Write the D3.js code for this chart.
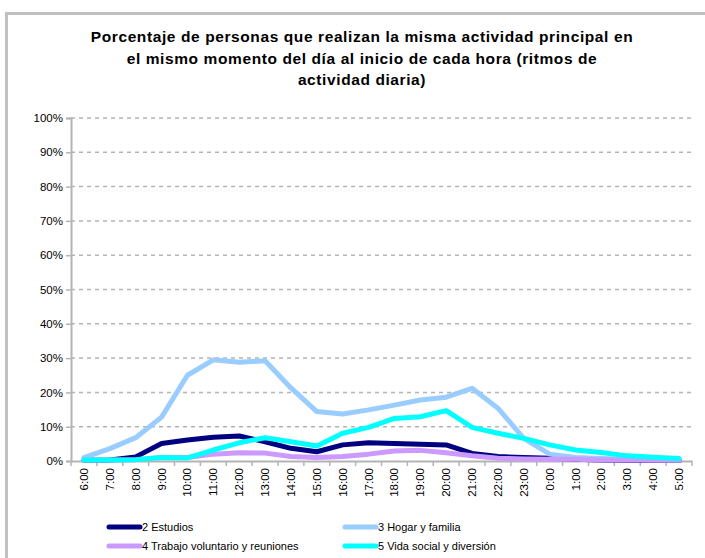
<!DOCTYPE html>
<html>
<head>
<meta charset="utf-8">
<script src="https://cdn.jsdelivr.net/npm/d3@7"></script>
<style>
  body { margin: 0; background: #fff; }
  svg { display: block; font-family: "Liberation Sans", Arial, sans-serif; }
</style>
</head>
<body>
<svg></svg>
<script>
const width = 705;
const height = 558;

const hours = ['6:00', '7:00', '8:00', '9:00', '10:00', '11:00', '12:00', '13:00', '14:00', '15:00', '16:00', '17:00',
    '18:00', '19:00', '20:00', '21:00', '22:00', '23:00', '0:00', '1:00', '2:00', '3:00', '4:00', '5:00'];

const estudios = [0.2, 0.3, 1.2, 5.1, 6.1, 6.9, 7.3, 5.6, 3.7, 2.7, 4.7, 5.3, 5.1, 4.9, 4.7, 2.2, 1.3, 1.0, 0.8, 0.5, 0.3, 0.2, 0.2, 0.2];
const hogar = [1.0, 3.6, 6.8, 12.8, 25.0, 29.5, 28.8, 29.2, 21.3, 14.4, 13.7, 14.9, 16.3, 17.8, 18.6, 21.2, 15.4, 6.6, 2.0, 1.0, 0.7, 0.5, 0.4, 0.3];
const voluntario = [0.2, 0.3, 0.4, 1.0, 1.0, 2.0, 2.4, 2.3, 1.3, 1.0, 1.3, 2.0, 2.9, 3.1, 2.4, 1.5, 0.8, 0.6, 0.5, 0.5, 0.3, 0.3, 0.3, 0.3];
const social = [0.3, 0.3, 0.4, 1.0, 0.9, 3.2, 5.3, 6.8, 5.6, 4.4, 8.1, 9.8, 12.4, 12.9, 14.7, 9.8, 8.1, 6.6, 4.7, 3.2, 2.5, 1.5, 1.1, 0.7];

const seriesNames = ['2 Estudios', '3 Hogar y familia', '4 Trabajo voluntario y reuniones', '5 Vida social y diversión'];
const seriesColors = ['#000080', '#99ccff', '#cc99ff', '#00ffff'];
const yTicks = [0, 10, 20, 30, 40, 50, 60, 70, 80, 90, 100];

const titleLines = ['Porcentaje de personas que realizan la misma actividad principal en',
    'el mismo momento del día al inicio de cada hora (ritmos de',
    'actividad diaria)'];

const series = [estudios, hogar, voluntario, social];

const svg = d3.select('svg')
    .attr('width', width)
    .attr('height', height);

// chart border (runs off the right and bottom edges)
svg.append('rect')
    .attr('x', 6.5)
    .attr('y', 13.5)
    .attr('width', 720)
    .attr('height', 600)
    .attr('fill', 'none')
    .attr('stroke', '#c0c0c0')
    .attr('stroke-width', 3);

svg.append('g').selectAll('text')
    .data(titleLines)
    .enter().append('text')
    .attr('x', 362)
    .attr('y', (d, i) => 42 + i * 21.5)
    .attr('text-anchor', 'middle')
    .attr('font-weight', 'bold')
    .attr('font-size', '15.5px')
    .attr('letter-spacing', '0.6px')
    .attr('fill', '#000')
    .text(d => d);

const x = d3.scaleBand().domain(hours).range([71, 692]);
const y = d3.scaleLinear().domain([0, 100]).range([461, 118]);

// grid lines
svg.append('g').selectAll('line')
    .data(yTicks.slice(1))
    .enter().append('line')
    .attr('x1', 71)
    .attr('x2', 692)
    .attr('y1', d => y(d))
    .attr('y2', d => y(d))
    .attr('stroke', '#b4b4b4')
    .attr('stroke-width', 1.5)
    .attr('stroke-dasharray', '4,4');

// y axis
const yAxis = svg.append('g')
    .attr('transform', 'translate(71,0)')
    .call(d3.axisLeft(y).tickValues(yTicks).tickFormat(d => d + '%').tickSize(5).tickPadding(3));
yAxis.select('.domain').attr('stroke', '#b4b4b4').attr('stroke-width', 2);
yAxis.selectAll('.tick line').attr('stroke', '#b4b4b4').attr('stroke-width', 1.5);
yAxis.selectAll('text').attr('font-size', '11.5px').attr('fill', '#000')
    .attr('font-family', '"Liberation Sans", Arial, sans-serif');

// x axis
const xAxis = svg.append('g')
    .attr('transform', 'translate(0,461)')
    .call(d3.axisBottom(x).tickSize(0).tickPadding(6));
xAxis.select('.domain').attr('stroke', '#b4b4b4').attr('stroke-width', 2);
xAxis.selectAll('text')
    .attr('font-size', '11.5px')
    .attr('fill', '#000')
    .attr('font-family', '"Liberation Sans", Arial, sans-serif')
    .attr('transform', 'rotate(-90)')
    .attr('text-anchor', 'end')
    .attr('dy', '0.35em')
    .attr('x', -7)
    .attr('y', 0);

// x ticks between categories
svg.append('g').selectAll('line')
    .data(d3.range(hours.length + 1))
    .enter().append('line')
    .attr('x1', i => x.range()[0] + i * x.step())
    .attr('x2', i => x.range()[0] + i * x.step())
    .attr('y1', 461)
    .attr('y2', 466)
    .attr('stroke', '#b4b4b4')
    .attr('stroke-width', 1.5);

const line = d3.line()
    .x((d, i) => x(hours[i]) + x.bandwidth() / 2)
    .y(d => y(d));

svg.append('g').selectAll('path')
    .data(series)
    .enter().append('path')
    .attr('d', line)
    .attr('fill', 'none')
    .attr('stroke', (d, i) => seriesColors[i])
    .attr('stroke-width', 5)
    .attr('stroke-linejoin', 'round')
    .attr('stroke-linecap', 'round');

// legend
const legendPos = [[107, 527], [343, 527], [107, 546], [343, 546]];
const legend = svg.append('g').selectAll('g')
    .data(seriesNames)
    .enter().append('g')
    .attr('transform', (d, i) => 'translate(' + legendPos[i][0] + ',' + legendPos[i][1] + ')');

legend.append('line')
    .attr('x1', 2)
    .attr('x2', 33)
    .attr('y1', 0)
    .attr('y2', 0)
    .attr('stroke', (d, i) => seriesColors[i])
    .attr('stroke-width', 5)
    .attr('stroke-linecap', 'round');

legend.append('text')
    .attr('x', 35)
    .attr('y', 4)
    .attr('font-size', '11px')
    .attr('fill', '#000')
    .text(d => d);
</script>
</body>
</html>
